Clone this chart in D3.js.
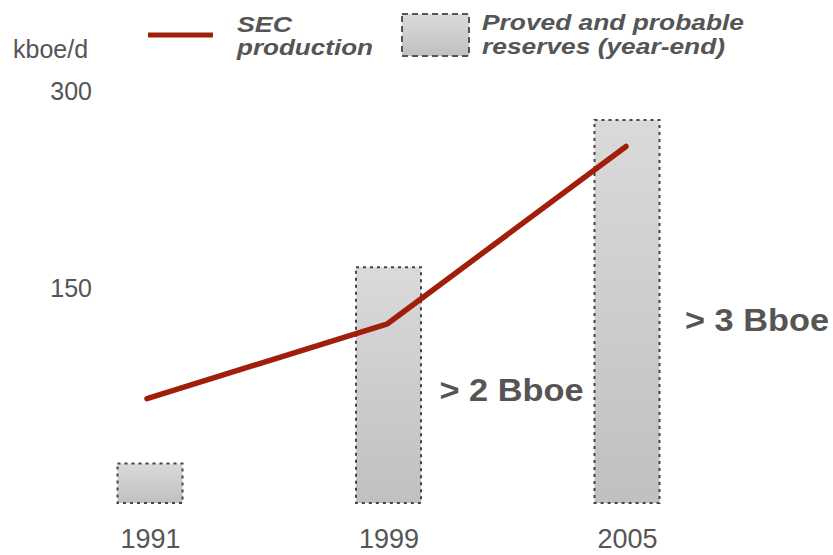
<!DOCTYPE html>
<html>
  <head>
    <meta charset="utf-8">
    <title>SEC production and reserves</title>
    <script src="https://d3js.org/d3.v7.min.js"></script>
    <style>
      body { margin: 0; background: #fff; }
      text { font-family: "Liberation Sans", Arial, sans-serif; fill: #555; }
      .axis .domain { display: none; }
      .legend text { font-weight: bold; font-style: italic; }
    </style>
  </head>
  <body>
    <div id="chart"></div>
    <script>
      // data
      var years = ["1991", "1999", "2005"];
      var production = [65, 122, 257];        // kboe/d
      var reserves = [0.33, 1.97, 3.2];       // Bboe, proved and probable
      var reserveLabels = ["", "> 2 Bboe", "> 3 Bboe"];
      var prodTicks = [150, 300];

      var width = 833, height = 555;

      var svg = d3.select("#chart")
        .append("svg")
          .attr("width", width)
          .attr("height", height);

      // gradient for the reserve bars
      var defs = svg.append("defs");
      var grad = defs.append("linearGradient")
          .attr("id", "barGrad")
          .attr("x1", 0).attr("y1", 0).attr("x2", 0).attr("y2", 1);
      grad.append("stop").attr("offset", "0%").attr("stop-color", "#dadada");
      grad.append("stop").attr("offset", "100%").attr("stop-color", "#c0c0c0");

      var x = d3.scalePoint()
        .domain(years)
        .range([149, 626]);

      var yProd = d3.scaleLinear()
        .domain([0, 300])
        .range([484, 90]);

      var yRes = d3.scaleLinear()
        .domain([0, 3.5])
        .range([503, 84]);

      var barW = 65;

      // bars
      svg.selectAll(".bar")
        .data(reserves)
        .enter().append("rect")
          .attr("class", "bar")
          .attr("x", function(d, i) { return x(years[i]) - barW / 2 + 1; })
          .attr("y", function(d) { return yRes(d); })
          .attr("width", barW)
          .attr("height", function(d) { return yRes(0) - yRes(d); })
          .attr("fill", "url(#barGrad)")
          .attr("stroke", "#444")
          .attr("stroke-width", 2)
          .attr("stroke-dasharray", "3,4");

      // production line
      var line = d3.line()
        .x(function(d, i) { return x(years[i]) - (i == 0 ? 2 : 0); })
        .y(function(d) { return yProd(d); });

      svg.append("path")
        .datum(production)
        .attr("fill", "none")
        .attr("stroke", "#a11e0b")
        .attr("stroke-width", 5.5)
        .attr("stroke-linecap", "round")
        .attr("stroke-linejoin", "round")
        .attr("d", line);

      // reserve labels, to the right of their bar
      svg.selectAll(".reslabel")
        .data(reserveLabels)
        .enter().append("text")
          .attr("class", "reslabel")
          .attr("x", function(d, i) { return x(years[i]) + (i == 1 ? 52 : 59); })
          .attr("y", function(d, i) { return i == 1 ? 401 : 331; })
          .attr("font-size", 32)
          .attr("font-weight", "bold")
          .attr("textLength", function(d) { return d ? 144 : null; })
          .attr("lengthAdjust", "spacingAndGlyphs")
          .text(function(d) { return d; });

      // y axis
      var yAxis = svg.append("g")
        .attr("class", "axis")
        .attr("transform", "translate(92,0)")
        .call(d3.axisLeft(yProd).tickValues(prodTicks).tickSize(0).tickPadding(0));
      yAxis.selectAll("text")
        .attr("font-size", 25)
        .attr("font-family", null)
        .attr("fill", "#555")
        .attr("dy", "0.36em");

      svg.append("text")
        .attr("x", 13)
        .attr("y", 58)
        .attr("font-size", 25)
        .text("kboe/d");

      // x axis
      var xAxis = svg.append("g")
        .attr("class", "axis")
        .attr("transform", "translate(0,548)")
        .call(d3.axisBottom(x).tickSize(0).tickPadding(0));
      xAxis.selectAll("text")
        .attr("font-size", 27)
        .attr("font-family", null)
        .attr("fill", "#555")
        .attr("dy", 0)
        .attr("x", 1);

      // legend
      var legend = svg.append("g").attr("class", "legend");
      legend.append("line")
        .attr("x1", 148).attr("x2", 213)
        .attr("y1", 35).attr("y2", 35)
        .attr("stroke", "#a11e0b")
        .attr("stroke-width", 5);
      legend.append("text").attr("x", 237).attr("y", 32).attr("font-size", 22)
        .attr("textLength", 55).attr("lengthAdjust", "spacingAndGlyphs").text("SEC");
      legend.append("text").attr("x", 237).attr("y", 55).attr("font-size", 22)
        .attr("textLength", 136).attr("lengthAdjust", "spacingAndGlyphs").text("production");

      legend.append("rect")
        .attr("x", 402).attr("y", 14)
        .attr("width", 67).attr("height", 42)
        .attr("fill", "url(#barGrad)")
        .attr("stroke", "#555")
        .attr("stroke-width", 2)
        .attr("stroke-dasharray", "6,4");
      legend.append("text").attr("x", 482).attr("y", 30).attr("font-size", 22)
        .attr("textLength", 262).attr("lengthAdjust", "spacingAndGlyphs").text("Proved and probable");
      legend.append("text").attr("x", 482).attr("y", 54).attr("font-size", 22)
        .attr("textLength", 243).attr("lengthAdjust", "spacingAndGlyphs").text("reserves (year-end)");
    </script>
  </body>
</html>
